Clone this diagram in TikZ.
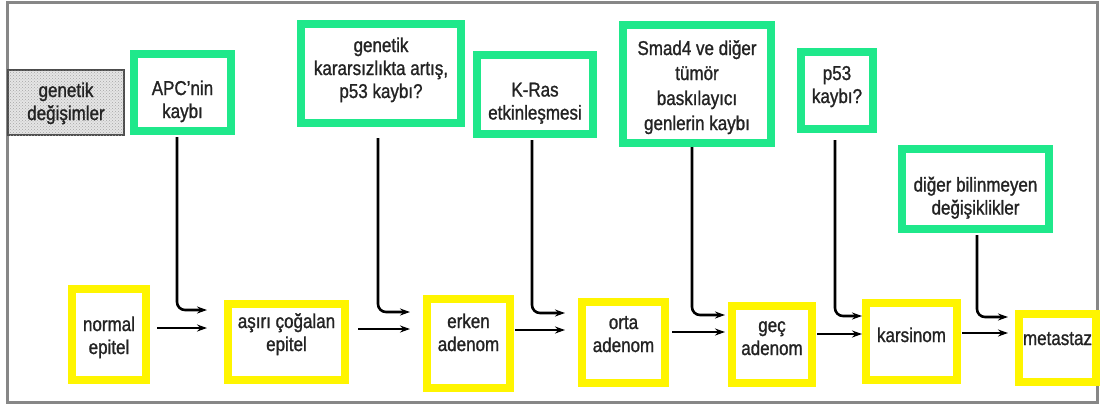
\documentclass[tikz,border=0pt]{standalone}
\usepackage{fontspec}
\setmainfont{Liberation Sans}[FakeStretch=0.85,FakeBold=1.2]
\usetikzlibrary{arrows.meta,patterns}
\definecolor{fcg}{RGB}{31,232,139}
\definecolor{fcy}{RGB}{255,245,0}
\definecolor{txt}{RGB}{35,35,35}
\definecolor{frm}{RGB}{135,135,135}
\tikzset{
  box_base/.style={
    rectangle,
    inner sep=0pt,
    align=center,
    text=txt,
    font=\fontsize{20}{23}\selectfont
  },
  % son satirin taban cizgisini ayarlar
  base_at/.style 2 args={text height=#1, text depth=#2},
  change_box/.style={box_base, draw=fcg, line width=8pt},
  stage_box/.style={box_base, draw=fcy, line width=8pt},
  feed_arrow/.style={black, line width=2.6pt, rounded corners=8pt, -{Stealth[length=10pt,width=7pt]}},
  flow_arrow/.style={black, line width=2pt, -{Stealth[length=10pt,width=7pt]}}
}

\begin{document}
\begin{tikzpicture}[x=1pt,y=-1pt]
\useasboundingbox (0,0) rectangle (1103,410);
\draw[frm, line width=3pt] (7,2) rectangle (1097,402);

% kutu: genetik degisimler
\node[box_base, draw=black!70, line width=1.5pt, fill=black!10,
      postaction={pattern=crosshatch dots, pattern color=black!35},
      base_at={35pt}{0pt}, minimum width=116pt, minimum height=65pt] (gd) at (66,102.5) {genetik\\değişimler};

% yesil kutular
\node[change_box, base_at={51pt}{0pt}, minimum width=97pt, minimum height=77pt] (g1) at (182.5,92.5) {APC'nin\\kaybı};
\node[change_box, base_at={49pt}{0pt}, minimum width=160pt, minimum height=99pt] (g2) at (381,73.5) {genetik\\kararsızlıkta artış,\\p53 kaybı?};
\node[change_box, base_at={50pt}{0pt}, minimum width=116pt, minimum height=79pt] (g3) at (535,94.5) {K-Ras\\etkinleşmesi};
\node[change_box, base_at={92pt}{0pt}, minimum width=148pt, minimum height=118pt,
      font=\fontsize{20}{25}\selectfont] (g4) at (697,84) {Smad4 ve diğer\\tümör\\baskılayıcı\\genlerin kaybı};
\node[change_box, base_at={25pt}{0pt}, minimum width=72pt, minimum height=77pt] (g5) at (837,90.5) {p53\\kaybı?};
\node[change_box, base_at={51pt}{0pt}, minimum width=147pt, minimum height=80pt] (g6) at (975.5,189) {diğer bilinmeyen\\değişiklikler};

% sari kutular
\node[stage_box, base_at={39pt}{0pt}, minimum width=74pt, minimum height=91pt] (s1) at (109,334.5) {normal\\epitel};
\node[stage_box, base_at={18pt}{0pt}, minimum width=117pt, minimum height=76pt] (s2) at (286.5,342) {aşırı çoğalan\\epitel};
\node[stage_box, base_at={15pt}{0pt}, minimum width=83pt, minimum height=89pt] (s3) at (468.5,343.5) {erken\\adenom};
\node[stage_box, base_at={19pt}{0pt}, minimum width=83pt, minimum height=81pt] (s4) at (623.5,342.5) {orta\\adenom};
\node[stage_box, base_at={21pt}{0pt}, minimum width=80pt, minimum height=77pt] (s5) at (772,344.5) {geç\\adenom};
\node[stage_box, base_at={1pt}{0pt}, minimum width=91pt, minimum height=77pt] (s6) at (911.5,341.5) {karsinom};
\node[stage_box, base_at={0pt}{6pt}, minimum width=77pt, minimum height=68pt] (s7) at (1057.5,348) {metastaz};

% ok uclari
\coordinate (b1) at (207,328);
\coordinate (b2) at (410,329);
\coordinate (b3) at (565,330);
\coordinate (b4) at (725,332);
\coordinate (b5) at (862,334);
\coordinate (b6) at (1008,333);
\coordinate (u1) at (207,310);
\coordinate (u2) at (410,312);
\coordinate (u3) at (565,313);
\coordinate (u4) at (725,315);
\coordinate (u5) at (862,316);
\coordinate (u6) at (1008,317);

\foreach \a/\gap [count=\i] in {s1/7pt, s2/9pt, s3/1pt, s4/3pt, s5/1pt, s6/1pt}{
\draw[flow_arrow, shorten <=\gap] (\a.east |- b\i) -- (b\i);
}
\foreach \g/\dx/\gap [count=\i] in {g1/-5.5pt/2pt, g2/-3pt/11pt, g3/-3pt/2pt, g4/-5pt/0pt, g5/-2pt/7pt, g6/1.5pt/2pt}{
\draw[feed_arrow, shorten <=\gap] ([xshift=\dx]\g.south) |- (u\i);
}

\end{tikzpicture}
\end{document}
